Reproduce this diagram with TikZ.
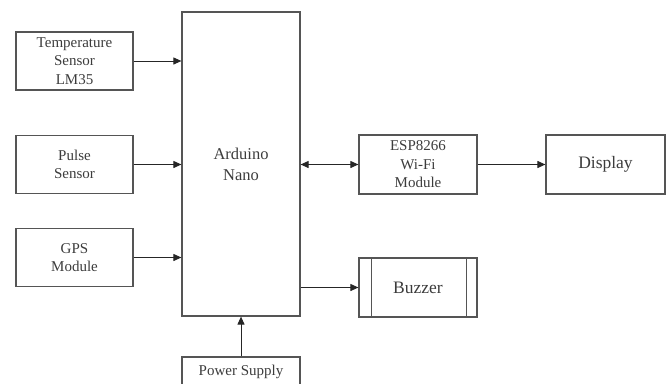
\documentclass[tikz,border=0pt]{standalone}
\usepackage{fontspec}
\setmainfont{Liberation Serif}
\usepackage{tikz}
\usetikzlibrary{arrows.meta}
\definecolor{edge}{HTML}{555555}
\definecolor{txt}{HTML}{3C3C3C}

\begin{document}
\begin{tikzpicture}[x=1pt,y=-1pt, every node/.style={align=center,text=txt},
  blk/.style={draw=edge,line width=1.2pt,minimum width=117pt,minimum height=58pt,inner sep=0pt,font=\fontsize{15}{18.5}\selectfont},
  arr/.style={-{Triangle[length=8pt,width=7pt]},draw=black!85,line width=1pt}]
  \useasboundingbox (0,0) rectangle (668,383);
  \clip (0,0) rectangle (668,383);
  \node[blk] (temp) at (74.5,61) {Temperature\\Sensor\\LM35};
  \node[blk] (pulse) at (74.5,164.5) {Pulse\\Sensor};
  \node[blk] (gps) at (74.5,257.5) {GPS\\Module};
  \node[blk,minimum width=118pt,minimum height=304pt,font=\fontsize{16.5}{21}\selectfont] (nano) at (241,164) {Arduino\\Nano};
  \node[blk,minimum width=118pt,minimum height=59pt] (esp) at (418,164.5) {ESP8266\\Wi-Fi\\Module};
  \node[blk,minimum width=119pt,minimum height=59pt,font=\fontsize{17.5}{21}\selectfont] (disp) at (605.5,164.5) {Display};
  \node[blk,minimum width=118pt,minimum height=59pt,font=\fontsize{17.5}{21}\selectfont] (buzz) at (418,287.5) {Buzzer};
  \draw[edge,line width=1.2pt] ([xshift=13pt]buzz.north west) -- ([xshift=13pt]buzz.south west);
  \draw[edge,line width=1.2pt] ([xshift=-11pt]buzz.north east) -- ([xshift=-11pt]buzz.south east);
  \node[blk,minimum width=118pt,minimum height=30pt] (power) at (241,372) {Power Supply};
  \draw[arr] (temp.east) -- (nano.west |- temp.east);
  \draw[arr] (pulse.east) -- (nano.west |- pulse.east);
  \draw[arr] (gps.east) -- (nano.west |- gps.east);
  \draw[arr,{Triangle[length=8pt,width=7pt]}-{Triangle[length=8pt,width=7pt]}] (nano.east |- esp.west) -- (esp.west);
  \draw[arr] (esp) -- (disp);
  \draw[arr] (nano.east |- buzz.west) -- (buzz.west);
  \draw[arr] (power) -- (nano);
\end{tikzpicture}
\end{document}
